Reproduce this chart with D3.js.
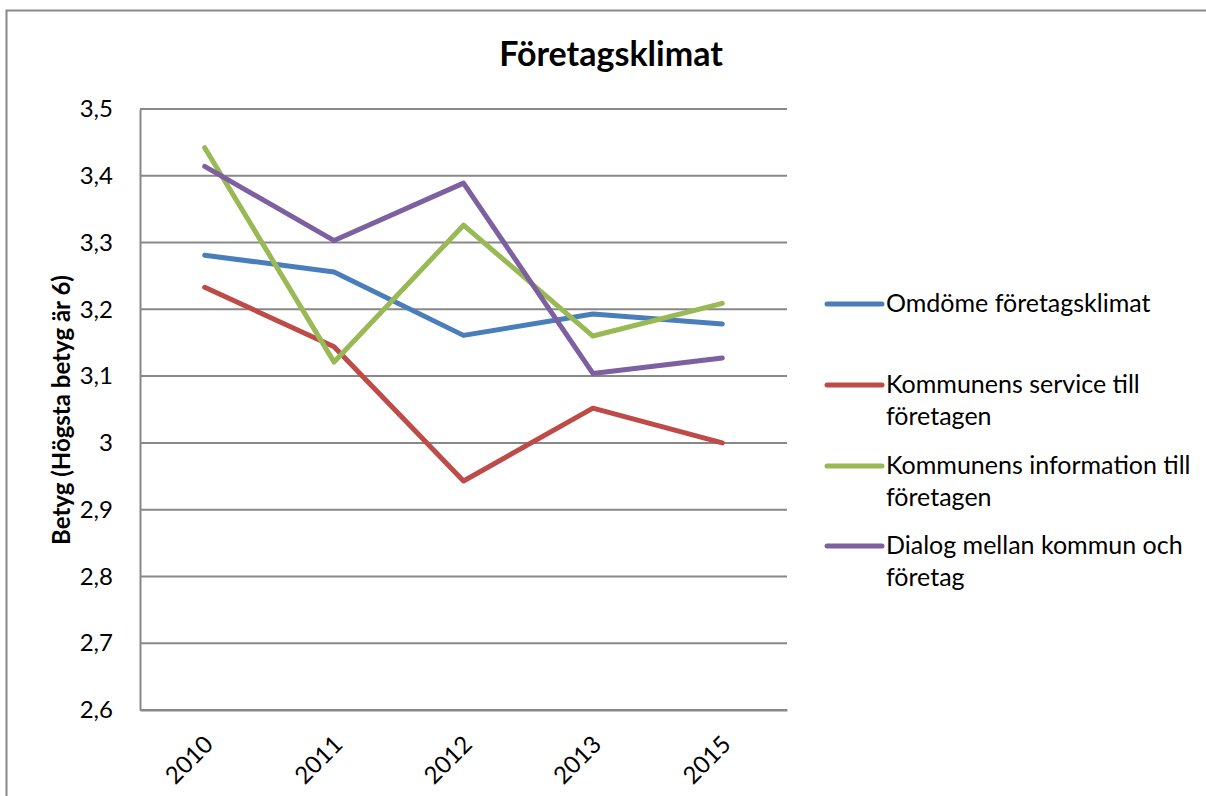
<!DOCTYPE html>
<html>
<head>
<meta charset="utf-8">
<script src="https://cdn.jsdelivr.net/npm/d3@7"></script>
<style>
  body { margin: 0; background: #fff; }
  svg { display: block; font-family: Lato, "Noto Sans", sans-serif; }
</style>
</head>
<body>
<div id="chart"></div>
<script>
// Chart data
const years = ['2010', '2011', '2012', '2013', '2015'];
const omdome = [3.281, 3.256, 3.161, 3.193, 3.178];
const service = [3.233, 3.144, 2.943, 3.052, 3.000];
const information = [3.442, 3.121, 3.326, 3.160, 3.209];
const dialog = [3.414, 3.303, 3.389, 3.104, 3.127];
const yTicks = [2.6, 2.7, 2.8, 2.9, 3.0, 3.1, 3.2, 3.3, 3.4, 3.5];

const series = [
  { name: ['Omdöme företagsklimat'], values: omdome, color: '#4a7ebb' },
  { name: ['Kommunens service till', 'företagen'], values: service, color: '#be4b48' },
  { name: ['Kommunens information till', 'företagen'], values: information, color: '#98b954' },
  { name: ['Dialog mellan kommun och', 'företag'], values: dialog, color: '#7d60a0' }
];

const width = 1206, height = 796;
const margin = { top: 109, right: 419, bottom: 86, left: 140 };

const svg = d3.select('#chart').append('svg')
  .attr('width', width)
  .attr('height', height);

// outer chart frame
svg.append('rect')
  .attr('x', 6.5).attr('y', 10.5)
  .attr('width', 1205).attr('height', 800)
  .attr('fill', 'none')
  .attr('stroke', '#888')
  .attr('stroke-width', 2);

const x = d3.scaleBand()
  .domain(years)
  .range([margin.left, width - margin.right]);

const y = d3.scaleLinear()
  .domain([2.6, 3.5])
  .range([height - margin.bottom, margin.top]);

// gridlines
svg.append('g')
  .selectAll('line')
  .data(yTicks)
  .join('line')
  .attr('x1', margin.left)
  .attr('x2', width - margin.right)
  .attr('y1', d => y(d))
  .attr('y2', d => y(d))
  .attr('stroke', '#888')
  .attr('stroke-width', 2);

// y axis
const yAxis = svg.append('g')
  .attr('transform', `translate(${margin.left},0)`)
  .call(d3.axisLeft(y).tickValues(yTicks).tickSize(0).tickPadding(27)
    .tickFormat(d => d3.format('.1f')(d).replace('.', ',').replace(',0', '')));
yAxis.select('.domain').attr('stroke', '#888').attr('stroke-width', 2);
yAxis.selectAll('text')
  .attr('font-size', 24)
  .attr('font-family', 'Lato, sans-serif')
  .attr('fill', '#000');

// x axis
const xAxis = svg.append('g')
  .attr('transform', `translate(0,${height - margin.bottom})`)
  .call(d3.axisBottom(x).tickSize(0));
xAxis.select('.domain').attr('stroke', '#888').attr('stroke-width', 2);
xAxis.selectAll('text')
  .attr('font-size', 24)
  .attr('font-family', 'Lato, sans-serif')
  .attr('fill', '#000')
  .attr('text-anchor', 'end')
  .attr('y', 0)
  .attr('dy', 0)
  .attr('transform', 'translate(10,36) rotate(-45)');

// lines
const line = d3.line()
  .x((d, i) => x(years[i]) + x.bandwidth() / 2)
  .y(d => y(d));

svg.append('g')
  .selectAll('path')
  .data(series)
  .join('path')
  .attr('d', d => line(d.values))
  .attr('fill', 'none')
  .attr('stroke', d => d.color)
  .attr('stroke-width', 5)
  .attr('stroke-linejoin', 'round')
  .attr('stroke-linecap', 'round');

// title
svg.append('text')
  .attr('x', 611)
  .attr('y', 66)
  .attr('text-anchor', 'middle')
  .attr('font-size', 34)
  .attr('font-weight', 'bold')
  .text('Företagsklimat');

// y axis label
svg.append('text')
  .attr('transform', 'translate(70,410) rotate(-90)')
  .attr('text-anchor', 'middle')
  .attr('font-size', 24)
  .attr('font-weight', 'bold')
  .text('Betyg (Högsta betyg är 6)');

// legend
const legendY = [304, 385, 466, 546];
const legend = svg.append('g')
  .selectAll('g')
  .data(series)
  .join('g')
  .attr('transform', (d, i) => `translate(827,${legendY[i]})`);

legend.append('line')
  .attr('x1', 0).attr('x2', 55)
  .attr('stroke', d => d.color)
  .attr('stroke-width', 5)
  .attr('stroke-linecap', 'round');

legend.append('text')
  .attr('font-size', 25)
  .selectAll('tspan')
  .data(d => d.name)
  .join('tspan')
  .attr('x', 59)
  .attr('y', (d, i) => 8 + i * 32)
  .text(d => d);
</script>
</body>
</html>
